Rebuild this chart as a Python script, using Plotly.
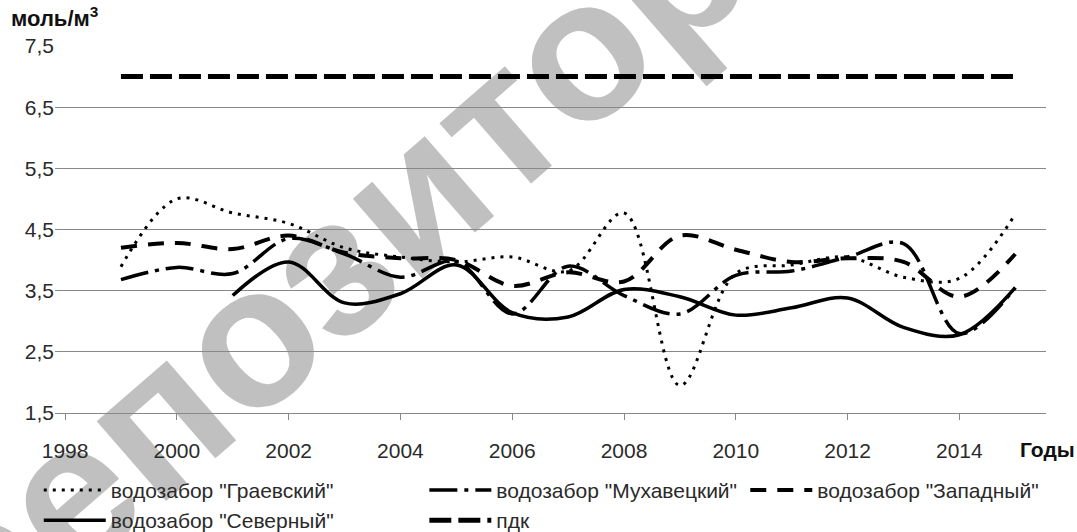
import plotly.graph_objects as go

years = list(range(1999, 2016))
graevsky = [3.89, 5.0, 4.77, 4.6, 4.2, 4.05, 3.97, 4.05, 3.82, 4.77, 1.95, 3.78, 3.92, 4.05, 3.72, 3.7, 4.75]
mukhavetsky = [3.68, 3.88, 3.78, 4.35, 4.1, 3.72, 3.98, 3.12, 3.9, 3.42, 3.12, 3.75, 3.82, 4.05, 4.27, 2.8, 3.55]
zapadny = [4.2, 4.28, 4.18, 4.4, 4.12, 4.03, 4.0, 3.58, 3.8, 3.65, 4.4, 4.17, 3.97, 4.03, 3.97, 3.4, 4.1]
severny = [None, None, 3.42, 3.97, 3.3, 3.45, 3.92, 3.14, 3.07, 3.52, 3.4, 3.1, 3.22, 3.38, 2.9, 2.78, 3.55]
pdk = [7.0] * len(years)

names = ['водозабор "Граевский"', 'водозабор "Мухавецкий"', 'водозабор "Западный"',
         'водозабор "Северный"', 'пдк']

y_ticks = [1.5, 2.5, 3.5, 4.5, 5.5, 6.5, 7.5]
y_ticktext = ["1,5", "2,5", "3,5", "4,5", "5,5", "6,5", "7,5"]
x_ticks = list(range(1998, 2015, 2))

FONT = "Liberation Sans"
TXT = "#2a2a2a"
fig = go.Figure()

series = [
    (graevsky, names[0], dict(color="black", width=3, dash="3px,6px"), "legend"),
    (mukhavetsky, names[1], dict(color="black", width=3.5, dash="28px,7px,4px,7px"), "legend2"),
    (zapadny, names[2], dict(color="black", width=4, dash="16px,11px"), "legend3"),
    (severny, names[3], dict(color="black", width=3.5), "legend"),
    (pdk, names[4], dict(color="black", width=5, dash="22px,7px"), "legend2"),
]
for vals, nm, ln, lg in series:
    shape = "linear" if nm == "пдк" else "spline"
    fig.add_trace(go.Scatter(x=years, y=vals, name=nm, mode="lines", legend=lg,
                             line=dict(shape=shape, smoothing=1.0, **ln)))

# watermark (behind data)
fig.add_shape(type="rect", xref="paper", yref="paper", x0=0.253, x1=0.453, y0=0.545, y1=0.745,
              line=dict(width=0), fillcolor="rgba(0,0,0,0)", layer="below",
              label=dict(text="репозиторий", textangle=-41, textposition="middle center",
                         font=dict(family=FONT, size=200, color="#c0c0c0", weight="bold")))

leg_common = dict(orientation="v", xref="container", yref="container", xanchor="left",
                  yanchor="top", y=0.117, font=dict(size=21, color=TXT),
                  itemwidth=62, tracegroupgap=0, bgcolor="rgba(0,0,0,0)")

fig.update_layout(
    width=1077, height=532,
    margin=dict(l=55, r=31, t=46, b=119, autoexpand=False),
    paper_bgcolor="white", plot_bgcolor="white",
    font=dict(family=FONT, size=21, color=TXT),
    showlegend=True,
    legend=dict(x=0.036, **leg_common),
    legend2=dict(x=0.394, **leg_common),
    legend3=dict(x=0.692, **leg_common),
    xaxis=dict(range=[1997.82, 2015.55], tickvals=x_ticks, ticks="outside", ticklen=6,
               tickcolor="#888", showgrid=False, showline=True, linecolor="#888",
               zeroline=False, ticklabelstandoff=13, tickfont=dict(size=21, color=TXT)),
    yaxis=dict(range=[1.5, 7.5], tickvals=y_ticks, ticktext=y_ticktext, showgrid=True,
               gridcolor="#888", gridwidth=1, zeroline=False, showline=False,
               ticks="", tickfont=dict(size=21, color=TXT)),
    annotations=[
        dict(text="моль/м<sup>3</sup>", xref="paper", yref="paper", x=-0.046, y=1.035,
             xanchor="left", yanchor="bottom", showarrow=False,
             font=dict(family=FONT, size=22, color="#111", weight="bold")),
        dict(text="Годы", xref="paper", yref="paper", x=1.002, y=-0.1,
             xanchor="center", yanchor="middle", showarrow=False,
             font=dict(family=FONT, size=21, color="#111", weight="bold")),
    ],
)

fig.write_html("out.html", config={"displayModeBar": False},
               post_script="document.body.style.margin='0';document.body.style.overflow='hidden';")
